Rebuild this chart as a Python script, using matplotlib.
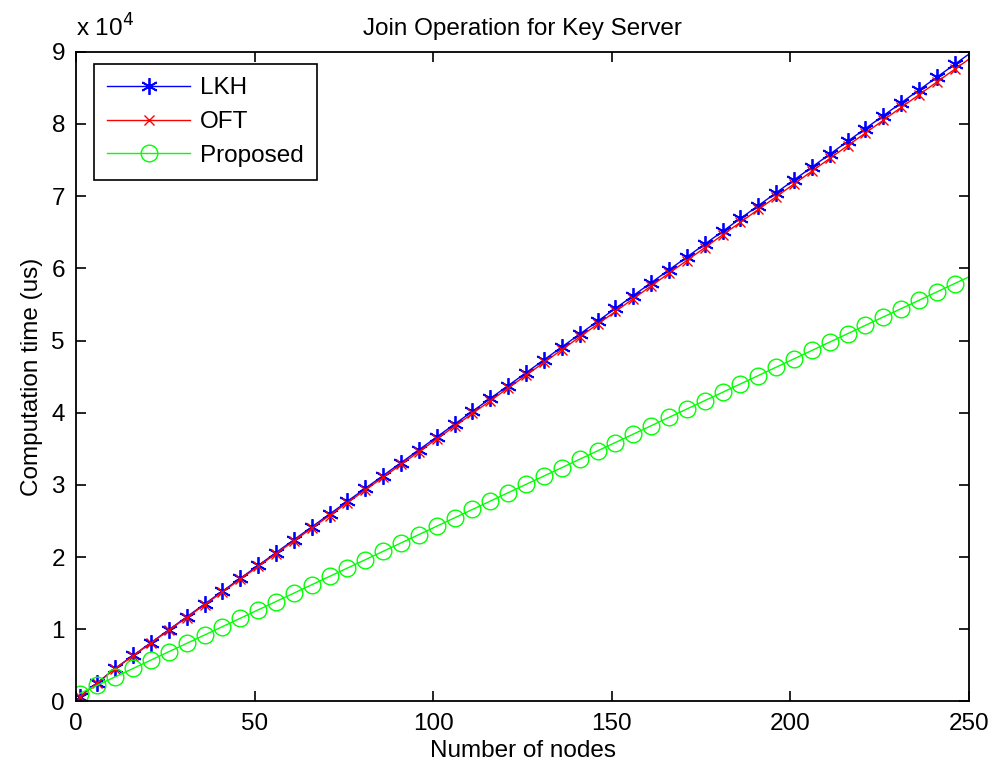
import matplotlib
matplotlib.use('Agg')
import matplotlib.pyplot as plt
from matplotlib.ticker import FuncFormatter

plt.rcParams['font.family'] = ['Liberation Sans', 'DejaVu Sans']

# number of nodes (markers every 5 nodes, line runs to 250)
nodes = [1, 6, 11, 16, 21, 26, 31, 36, 41, 46, 51, 56, 61, 66, 71, 76, 81, 86, 91, 96,
         101, 106, 111, 116, 121, 126, 131, 136, 141, 146, 151, 156, 161, 166, 171, 176,
         181, 186, 191, 196, 201, 206, 211, 216, 221, 226, 231, 236, 241, 246, 250]

lkh = [650, 2600, 4600, 6380, 8160, 9940, 11720, 13500, 15280, 17060, 18840, 20620,
       22400, 24180, 25960, 27740, 29520, 31300, 33080, 34860, 36640, 38420, 40200,
       41980, 43760, 45540, 47320, 49100, 50880, 52660, 54440, 56220, 58000, 59780,
       61560, 63340, 65120, 66900, 68680, 70460, 72240, 74020, 75800, 77580, 79360,
       81140, 82920, 84700, 86480, 88260, 89680]

oft = [640, 2580, 4570, 6340, 8100, 9870, 11630, 13400, 15170, 16930, 18700, 20470,
       22230, 24000, 25760, 27530, 29300, 31060, 32830, 34590, 36360, 38130, 39890,
       41660, 43420, 45190, 46960, 48720, 50490, 52250, 54020, 55790, 57550, 59320,
       61080, 62850, 64620, 66380, 68150, 69910, 71680, 73450, 75210, 76980, 78740,
       80510, 82280, 84040, 85810, 87570, 88980]

proposed = [1100, 2260, 3420, 4580, 5740, 6900, 8050, 9210, 10370, 11530, 12690, 13850,
            15010, 16170, 17330, 18490, 19640, 20800, 21960, 23120, 24280, 25440, 26600,
            27760, 28920, 30080, 31230, 32390, 33550, 34710, 35870, 37030, 38190, 39350,
            40510, 41670, 42820, 43980, 45140, 46300, 47460, 48620, 49780, 50940, 52100,
            53260, 54410, 55570, 56730, 57890, 58820]

fs = 17.5
fig = plt.figure(figsize=(9.96, 7.73), dpi=100)
ax = fig.add_axes([0.0763, 0.0925, 0.8966, 0.8406])

mk = slice(0, len(nodes) - 1)
ax.plot(nodes, lkh, color='blue', lw=1.0, marker=(6, 2, 0), ms=12, mew=1.3,
        markevery=mk, label='LKH')
ax.plot(nodes, oft, color='red', lw=1.0, marker='x', ms=7, mew=1.0,
        markevery=mk, label='OFT')
ax.plot(nodes, proposed, color='#00ff00', lw=1.0, marker='o', ms=12, mew=1.0,
        mfc='none', markevery=mk, label='Proposed')

ax.set_xlim(0, 250)
ax.set_ylim(0, 90000)
ax.set_xticks(range(0, 251, 50))
ax.set_yticks(range(0, 90001, 10000))
ax.yaxis.set_major_formatter(FuncFormatter(lambda v, p: '%d' % round(v / 1e4)))
ax.tick_params(direction='in', length=7, width=1.2, labelsize=fs, top=True, right=True)
ax.tick_params(axis='x', pad=8)
ax.tick_params(axis='y', pad=8)
for s in ax.spines.values():
    s.set_linewidth(1.3)

ax.text(0.0, 1.015, 'x 10$^{4}$', transform=ax.transAxes, fontsize=fs,
        ha='left', va='bottom')
ax.set_title('Join Operation for Key Server', fontsize=fs, pad=12)
ax.set_xlabel('Number of nodes', fontsize=fs, labelpad=4)
ax.set_ylabel('Computation time (us)', fontsize=fs, labelpad=6)

leg = ax.legend(loc='upper left', bbox_to_anchor=(0.020, 0.981), borderaxespad=0,
                fontsize=fs, fancybox=False, edgecolor='black', framealpha=1,
                handlelength=3.4, handletextpad=0.4, labelspacing=0.48, borderpad=0.55)
leg.get_frame().set_linewidth(1.2)

fig.savefig('out.png', dpi=100)
